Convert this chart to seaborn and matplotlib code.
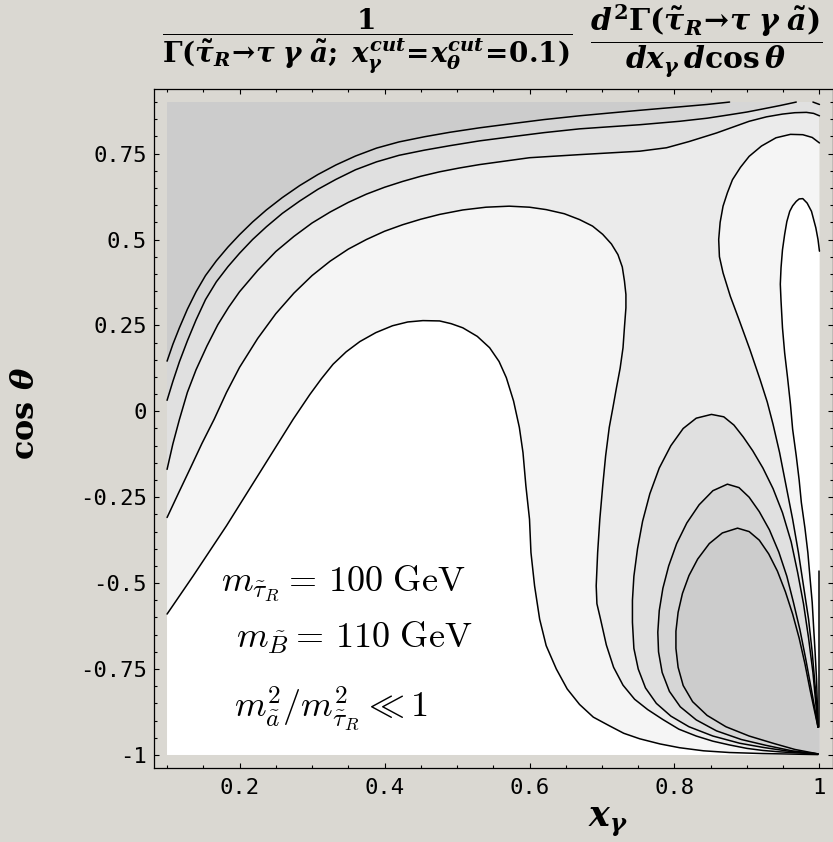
import numpy as np
import pandas as pd
import matplotlib
matplotlib.use("Agg")
import matplotlib.pyplot as plt
import seaborn as sns

# ---------------------------------------------------------------------------
# Contour lines of the normalised double-differential decay rate,
# given as (x_gamma, cos theta) points along each line.
# ---------------------------------------------------------------------------
# upper-left family, from the darkest band outwards
L1_X = [0.100, 0.108, 0.117, 0.128, 0.140, 0.153, 0.168, 0.184, 0.200, 0.218, 0.237, 0.259, 0.283, 0.308, 0.333,
        0.360, 0.389, 0.420, 0.455, 0.490, 0.531, 0.575, 0.620, 0.669, 0.710, 0.752, 0.807, 0.845, 0.876]
L1_Y = [0.146, 0.195, 0.243, 0.297, 0.348, 0.395, 0.438, 0.478, 0.514, 0.551, 0.586, 0.622, 0.657, 0.689, 0.717,
        0.743, 0.766, 0.784, 0.799, 0.812, 0.825, 0.837, 0.849, 0.860, 0.868, 0.876, 0.886, 0.893, 0.900]

L2_X = [0.100, 0.108, 0.117, 0.128, 0.140, 0.153, 0.168, 0.184, 0.200, 0.218, 0.237, 0.259, 0.283, 0.308, 0.333,
        0.360, 0.389, 0.420, 0.455, 0.490, 0.531, 0.575, 0.620, 0.669, 0.710, 0.752, 0.807, 0.845, 0.876, 0.900,
        0.922, 0.946, 0.968]
L2_Y = [0.032, 0.087, 0.144, 0.205, 0.266, 0.325, 0.377, 0.421, 0.460, 0.500, 0.537, 0.576, 0.612, 0.646, 0.675,
        0.703, 0.726, 0.745, 0.760, 0.773, 0.787, 0.799, 0.811, 0.822, 0.828, 0.834, 0.844, 0.853, 0.863, 0.871,
        0.880, 0.890, 0.900]

L3_X = [0.100, 0.108, 0.117, 0.128, 0.140, 0.155, 0.170, 0.185, 0.200, 0.225, 0.250, 0.275, 0.300, 0.325, 0.350,
        0.375, 0.400, 0.425, 0.450, 0.476, 0.503, 0.531, 0.600, 0.669, 0.752, 0.789, 0.820, 0.858, 0.903, 0.927,
        0.949, 0.966, 0.982, 0.992, 1.000]
L3_Y = [-0.169, -0.095, -0.024, 0.055, 0.121, 0.190, 0.252, 0.303, 0.348, 0.410, 0.465, 0.509, 0.548, 0.580, 0.608,
        0.632, 0.652, 0.669, 0.684, 0.697, 0.708, 0.718, 0.738, 0.747, 0.757, 0.767, 0.785, 0.810, 0.844, 0.857,
        0.865, 0.869, 0.870, 0.867, 0.860]

L4_X = [0.100, 0.116, 0.132, 0.148, 0.165, 0.182, 0.200, 0.225, 0.250, 0.275, 0.300, 0.325, 0.350, 0.375, 0.400,
        0.425, 0.450, 0.476, 0.508, 0.540, 0.572, 0.600, 0.623, 0.648, 0.669, 0.687, 0.701, 0.713, 0.722, 0.728,
        0.731, 0.733, 0.733, 0.731, 0.729, 0.725, 0.720, 0.715, 0.710, 0.705, 0.701, 0.697, 0.694, 0.692, 0.693,
        0.698, 0.706, 0.716, 0.729, 0.745, 0.763, 0.784, 0.806, 0.830, 0.853, 0.876, 0.900, 0.922, 0.945, 0.968, 0.998]
L4_Y = [-0.309, -0.237, -0.166, -0.094, -0.023, 0.055, 0.128, 0.212, 0.284, 0.344, 0.395, 0.437, 0.472, 0.500, 0.524,
        0.543, 0.559, 0.573, 0.586, 0.594, 0.597, 0.594, 0.587, 0.575, 0.558, 0.539, 0.515, 0.487, 0.456, 0.420,
        0.379, 0.340, 0.301, 0.245, 0.185, 0.125, 0.069, 0.010, -0.047, -0.130, -0.217, -0.314, -0.411, -0.508, -0.560,
        -0.605, -0.680, -0.745, -0.797, -0.838, -0.868, -0.897, -0.925, -0.945, -0.960, -0.971, -0.981, -0.987, -0.991, -0.994, -0.997]

L5_X = [0.100, 0.136, 0.182, 0.228, 0.274, 0.297, 0.313, 0.329, 0.347, 0.366, 0.388, 0.411, 0.432, 0.453, 0.476,
        0.492, 0.508, 0.528, 0.545, 0.558, 0.568, 0.578, 0.586, 0.591, 0.595, 0.600, 0.602, 0.607, 0.614, 0.623,
        0.637, 0.652, 0.669, 0.688, 0.710, 0.730, 0.752, 0.780, 0.807, 0.840, 0.876, 0.922, 0.998]
L5_Y = [-0.590, -0.479, -0.333, -0.178, -0.023, 0.049, 0.095, 0.137, 0.173, 0.203, 0.229, 0.249, 0.260, 0.264, 0.263,
        0.255, 0.243, 0.218, 0.185, 0.145, 0.098, 0.030, -0.047, -0.120, -0.217, -0.314, -0.411, -0.508, -0.605, -0.682,
        -0.750, -0.808, -0.853, -0.890, -0.915, -0.937, -0.953, -0.968, -0.979, -0.988, -0.993, -0.996, -0.999]

# right-hand family: outer strip boundary and the white ridge near x = 1
D_X = [1.000, 0.990, 0.977, 0.960, 0.940, 0.920, 0.903, 0.891, 0.880, 0.873, 0.867, 0.863, 0.861, 0.862, 0.867,
       0.877, 0.889, 0.904, 0.918, 0.928, 0.936, 0.945, 0.954, 0.963, 0.971, 0.978, 0.985, 0.990, 0.994, 0.997, 0.998]
D_Y = [0.781, 0.797, 0.805, 0.806, 0.796, 0.772, 0.742, 0.710, 0.674, 0.636, 0.597, 0.550, 0.500, 0.450, 0.403,
       0.335, 0.267, 0.180, 0.093, 0.027, -0.038, -0.120, -0.217, -0.314, -0.411, -0.508, -0.605, -0.701, -0.799, -0.870, -0.919]

E_X = [1.000, 0.998, 0.995, 0.989, 0.983, 0.977, 0.972, 0.968, 0.963, 0.959, 0.955, 0.952, 0.949, 0.947, 0.946,
       0.947, 0.949, 0.952, 0.956, 0.960, 0.963, 0.968, 0.972, 0.975, 0.980, 0.984, 0.987, 0.990, 0.992, 0.994,
       0.996, 0.997, 0.998]
E_Y = [0.466, 0.500, 0.534, 0.582, 0.606, 0.619, 0.618, 0.611, 0.598, 0.582, 0.552, 0.515, 0.470, 0.418, 0.370,
       0.321, 0.243, 0.170, 0.098, 0.020, -0.052, -0.130, -0.200, -0.265, -0.340, -0.411, -0.485, -0.556, -0.630, -0.701,
       -0.780, -0.850, -0.919]

# closed arches in the lower-right corner (outer to inner)
A1_X = [0.998, 0.960, 0.922, 0.890, 0.853, 0.820, 0.795, 0.775, 0.760, 0.750, 0.744, 0.742, 0.742, 0.744, 0.749,
        0.756, 0.766, 0.779, 0.795, 0.812, 0.830, 0.851, 0.868, 0.882, 0.895, 0.908, 0.922, 0.936, 0.949, 0.961,
        0.970, 0.978, 0.985, 0.991, 0.995, 0.998]
A1_Y = [-0.997, -0.990, -0.978, -0.966, -0.945, -0.918, -0.887, -0.850, -0.805, -0.750, -0.690, -0.614, -0.550, -0.480, -0.400,
        -0.320, -0.240, -0.165, -0.100, -0.050, -0.020, -0.009, -0.016, -0.040, -0.075, -0.115, -0.165, -0.225, -0.295, -0.380,
        -0.470, -0.560, -0.660, -0.760, -0.850, -0.919]

A2_X = [0.998, 0.962, 0.926, 0.892, 0.858, 0.830, 0.808, 0.793, 0.783, 0.778, 0.777, 0.779, 0.784, 0.792, 0.803,
        0.817, 0.834, 0.853, 0.873, 0.889, 0.903, 0.917, 0.931, 0.944, 0.955, 0.964, 0.973, 0.981, 0.988, 0.994, 0.998]
A2_Y = [-0.997, -0.988, -0.972, -0.955, -0.930, -0.898, -0.860, -0.815, -0.760, -0.700, -0.643, -0.580, -0.515, -0.450, -0.385,
        -0.325, -0.272, -0.231, -0.212, -0.222, -0.250, -0.292, -0.345, -0.410, -0.480, -0.555, -0.635, -0.720, -0.800, -0.870, -0.919]

A3_X = [0.998, 0.966, 0.936, 0.903, 0.871, 0.845, 0.825, 0.812, 0.805, 0.802, 0.802, 0.805, 0.811, 0.820, 0.832,
        0.848, 0.866, 0.887, 0.903, 0.917, 0.930, 0.942, 0.953, 0.963, 0.972, 0.980, 0.987, 0.993, 0.998]
A3_Y = [-0.997, -0.984, -0.966, -0.945, -0.918, -0.885, -0.845, -0.798, -0.745, -0.690, -0.640, -0.585, -0.530, -0.478, -0.430,
        -0.385, -0.354, -0.340, -0.350, -0.375, -0.415, -0.465, -0.525, -0.590, -0.660, -0.735, -0.810, -0.870, -0.919]

# line running along the x = 1 edge, and the small piece in the top-right corner
EDGE_X = [1.000, 1.000]
EDGE_Y = [-0.464, -0.919]
CORNER_X = [0.991, 1.000]
CORNER_Y = [0.900, 0.893]

# grey levels of the six bands, darkest to white
BAND_GREYS = ["#cccccc", "#d6d6d6", "#e0e0e0", "#ebebeb", "#f5f5f5", "#ffffff"]

X_RANGE = (0.1, 1.0)
Y_RANGE = (-1.0, 0.9)
X_TICKS = [0.2, 0.4, 0.6, 0.8, 1.0]
X_TICK_LABELS = ["0.2", "0.4", "0.6", "0.8", "1"]
Y_TICKS = [-1.0, -0.75, -0.5, -0.25, 0.0, 0.25, 0.5, 0.75]
Y_TICK_LABELS = ["-1", "-0.75", "-0.5", "-0.25", "0", "0.25", "0.5", "0.75"]

PAPER = "#dad8d2"

# ---------------------------------------------------------------------------
sns.set_theme(style="ticks")
plt.rcParams["font.family"] = ["DejaVu Sans Mono"]
plt.rcParams["mathtext.fontset"] = "custom"
plt.rcParams["mathtext.rm"] = "DejaVu Serif:bold"
plt.rcParams["mathtext.bf"] = "DejaVu Serif:bold"
plt.rcParams["mathtext.it"] = "DejaVu Serif:italic:bold"

fig = plt.figure(figsize=(8.33, 8.42), dpi=100)
fig.patch.set_facecolor(PAPER)
ax = fig.add_axes([0.1849, 0.0879, 0.8145, 0.8064])
ax.set_facecolor(PAPER)

x0, x1 = X_RANGE
y0, y1 = Y_RANGE
edge_end = EDGE_Y[-1]


def pts(xs, ys):
    return list(zip(xs, ys))


# filled bands, painted from the outside in
bands = [
    ([(x0, y0), (x1, y0), (x1, y1), (x0, y1)], 3),
    (pts(L3_X, L3_Y) + [(x1, y1), (x0, y1)], 2),
    (pts(L2_X, L2_Y) + [(x0, y1)], 1),
    (pts(L1_X, L1_Y) + [(x0, y1)], 0),
    (pts(CORNER_X, CORNER_Y) + [(x1, y1)], 1),
    (pts(L4_X, L4_Y) + [(x1, y0), (x0, y0)], 4),
    (pts(L5_X, L5_Y) + [(x1, y0), (x0, y0)], 5),
    (pts(D_X, D_Y) + [(x1, edge_end)], 4),
    (pts(E_X, E_Y) + [(x1, edge_end)], 5),
    (pts(A1_X, A1_Y) + [(x1, edge_end), (x1, y0)], 2),
    (pts(A2_X, A2_Y) + [(x1, edge_end), (x1, y0)], 1),
    (pts(A3_X, A3_Y) + [(x1, edge_end), (x1, y0)], 0),
]
for poly, level in bands:
    px, py = zip(*poly)
    ax.fill(px, py, color=BAND_GREYS[level], lw=0, zorder=1)

# contour lines
lines = {
    "L1": (L1_X, L1_Y), "L2": (L2_X, L2_Y), "L3": (L3_X, L3_Y),
    "L4": (L4_X, L4_Y), "L5": (L5_X, L5_Y), "D": (D_X, D_Y), "E": (E_X, E_Y),
    "A1": (A1_X, A1_Y), "A2": (A2_X, A2_Y), "A3": (A3_X, A3_Y),
    "edge": (EDGE_X, EDGE_Y), "corner": (CORNER_X, CORNER_Y),
}
df = pd.concat(
    [pd.DataFrame({"x": xs, "y": ys, "line": name}) for name, (xs, ys) in lines.items()],
    ignore_index=True,
)
sns.lineplot(data=df, x="x", y="y", units="line", estimator=None, sort=False,
             color="black", lw=1.1, legend=False, ax=ax, zorder=3)

# frame
ax.set_xlim(0.082, 1.018)
ax.set_ylim(-1.038, 0.938)
for sp in ax.spines.values():
    sp.set_visible(True)
    sp.set_color("black")
    sp.set_linewidth(0.9)
    sp.set_zorder(5)

ax.set_xticks(X_TICKS)
ax.set_xticklabels(X_TICK_LABELS)
ax.set_yticks(Y_TICKS)
ax.set_yticklabels(Y_TICK_LABELS)
ax.set_xticks(np.arange(0.1, 1.0001, 0.05), minor=True)
ax.set_yticks(np.arange(-1.0, 0.9001, 0.05), minor=True)
ax.tick_params(which="both", direction="in", top=True, right=True, color="black", width=0.8)
ax.tick_params(which="major", length=3.8, labelsize=16, labelcolor="black")
ax.tick_params(which="minor", length=1.9)
ax.tick_params(axis="x", which="major", pad=7)
ax.tick_params(axis="y", which="major", pad=5)

ax.set_xlabel(r"$x_\gamma$", fontsize=25, color="black", va="center")
ax.xaxis.set_label_coords(0.670, -0.079)
ax.set_ylabel(r"$\cos\,\theta$", fontsize=23, color="black", va="center")
ax.yaxis.set_label_coords(-0.189, 0.523)

# mass parameters
notes = [
    (0.175, -0.526, r"$m_{\tilde{\tau}_R} =\, 100\ \mathrm{GeV}$"),
    (0.195, -0.689, r"$m_{\tilde{B}} =\, 110\ \mathrm{GeV}$"),
    (0.193, -0.890, r"$m_{\tilde{a}}^2/m_{\tilde{\tau}_R}^2 \ll 1$"),
]
for nx, ny, txt in notes:
    ax.text(nx, ny, txt, fontsize=26, math_fontfamily="cm", color="black",
            ha="left", va="baseline", zorder=6)

# title: normalised double-differential rate
fig.text(0.4406, 0.951,
         r"$\dfrac{1}{\Gamma(\tilde{\tau}_R\!\rightarrow\!\tau\;\gamma\;\tilde{a};\;x_\gamma^{cut}\!=\!x_\theta^{cut}\!=\!0.1)}$",
         fontsize=20, ha="center", va="center", color="black")
fig.text(0.848, 0.951,
         r"$\dfrac{d^2\Gamma(\tilde{\tau}_R\!\rightarrow\!\tau\;\gamma\;\tilde{a})}{dx_\gamma\, d\cos\theta}$",
         fontsize=21.5, ha="center", va="center", color="black")

fig.savefig("out.png", dpi=100, facecolor=PAPER)
